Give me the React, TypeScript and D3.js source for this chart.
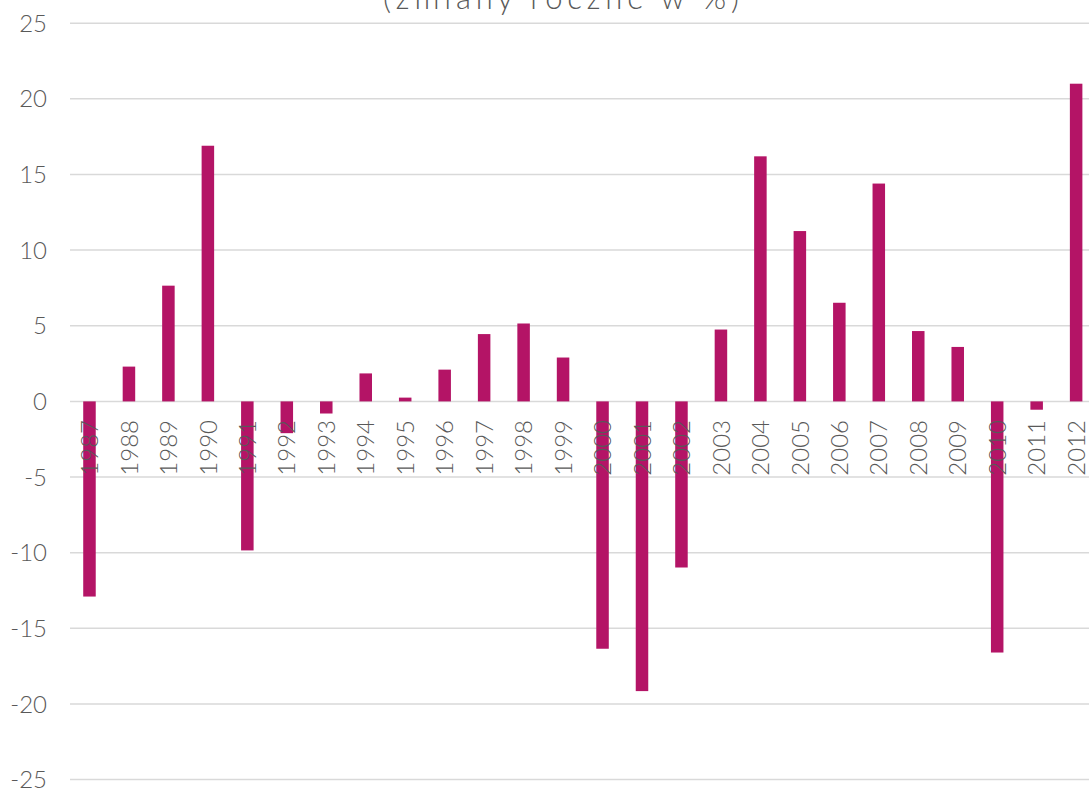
import React, { useEffect, useRef } from "react";
import * as d3 from "d3";

const years: string[] = [
  "1987", "1988", "1989", "1990", "1991", "1992", "1993", "1994", "1995",
  "1996", "1997", "1998", "1999", "2000", "2001", "2002", "2003", "2004",
  "2005", "2006", "2007", "2008", "2009", "2010", "2011", "2012",
];

const changes: number[] = [
  -12.9, 2.3, 7.65, 16.9, -9.85, -2.1, -0.8, 1.85, 0.25,
  2.1, 4.45, 5.15, 2.9, -16.35, -19.15, -10.98, 4.75, 16.2,
  11.26, 6.52, 14.4, 4.65, 3.6, -16.6, -0.55, 21.0,
];

const yTicks: number[] = [-25, -20, -15, -10, -5, 0, 5, 10, 15, 20, 25];

const title = "(zmiany roczne w %)";

const W = 1089;
const H = 791;

const App: React.FC = () => {
  const svgRef = useRef<SVGSVGElement>(null);

  useEffect(() => {
    if (!svgRef.current) return;
    const svg = d3.select(svgRef.current);
    svg.selectAll("*").remove();

    const font = "'Lato', 'DejaVu Sans', sans-serif";
    const textColor = "#595959";

    // plot runs a little past the right edge of the picture
    const x = d3.scaleBand<string>().domain(years).range([69.8, 1095.8]).paddingInner(0.683).paddingOuter(0.34);
    const y = d3.scaleLinear().domain([-25, 25]).range([779.6, 23.2]);

    // gridlines
    svg
      .append("g")
      .selectAll("line")
      .data(yTicks)
      .enter()
      .append("line")
      .attr("x1", 70)
      .attr("x2", W)
      .attr("y1", (d) => y(d))
      .attr("y2", (d) => y(d))
      .attr("stroke", "#d9d9d9")
      .attr("stroke-width", 1.5);

    // y tick labels
    svg
      .append("g")
      .selectAll("text")
      .data(yTicks)
      .enter()
      .append("text")
      .attr("x", 47)
      .attr("y", (d) => y(d))
      .attr("dy", "0.36em")
      .attr("text-anchor", "end")
      .attr("font-family", font)
      .attr("font-weight", 300)
      .attr("font-size", 24)
      .attr("fill", textColor)
      .text((d) => String(d));

    // bars
    svg
      .append("g")
      .selectAll("rect")
      .data(changes)
      .enter()
      .append("rect")
      .attr("x", (d, i) => x(years[i]) || 0)
      .attr("width", x.bandwidth())
      .attr("y", (d) => y(Math.max(0, d)))
      .attr("height", (d) => Math.abs(y(d) - y(0)))
      .attr("fill", "#b41466");

    // x labels (rotated)
    svg
      .append("g")
      .selectAll("text")
      .data(years)
      .enter()
      .append("text")
      .attr("transform", (d) => `translate(${(x(d) || 0) + x.bandwidth() / 2},420) rotate(-90)`)
      .attr("dy", "0.36em")
      .attr("text-anchor", "end")
      .attr("font-family", font)
      .attr("font-weight", 300)
      .attr("font-size", 24)
      .attr("fill", textColor)
      .text((d) => d);

    // title (partly cut off at the top, as in the source)
    svg
      .append("text")
      .attr("x", 561)
      .attr("y", 9)
      .attr("text-anchor", "middle")
      .attr("font-family", font)
      .attr("font-weight", 300)
      .attr("font-size", 31)
      .attr("textLength", 356)
      .attr("lengthAdjust", "spacing")
      .attr("fill", textColor)
      .text(title);
  }, []);

  return (
    <svg
      ref={svgRef}
      width={W}
      height={H}
      style={{ position: "absolute", left: 0, top: 0, background: "#fff" }}
    />
  );
};

export default App;
